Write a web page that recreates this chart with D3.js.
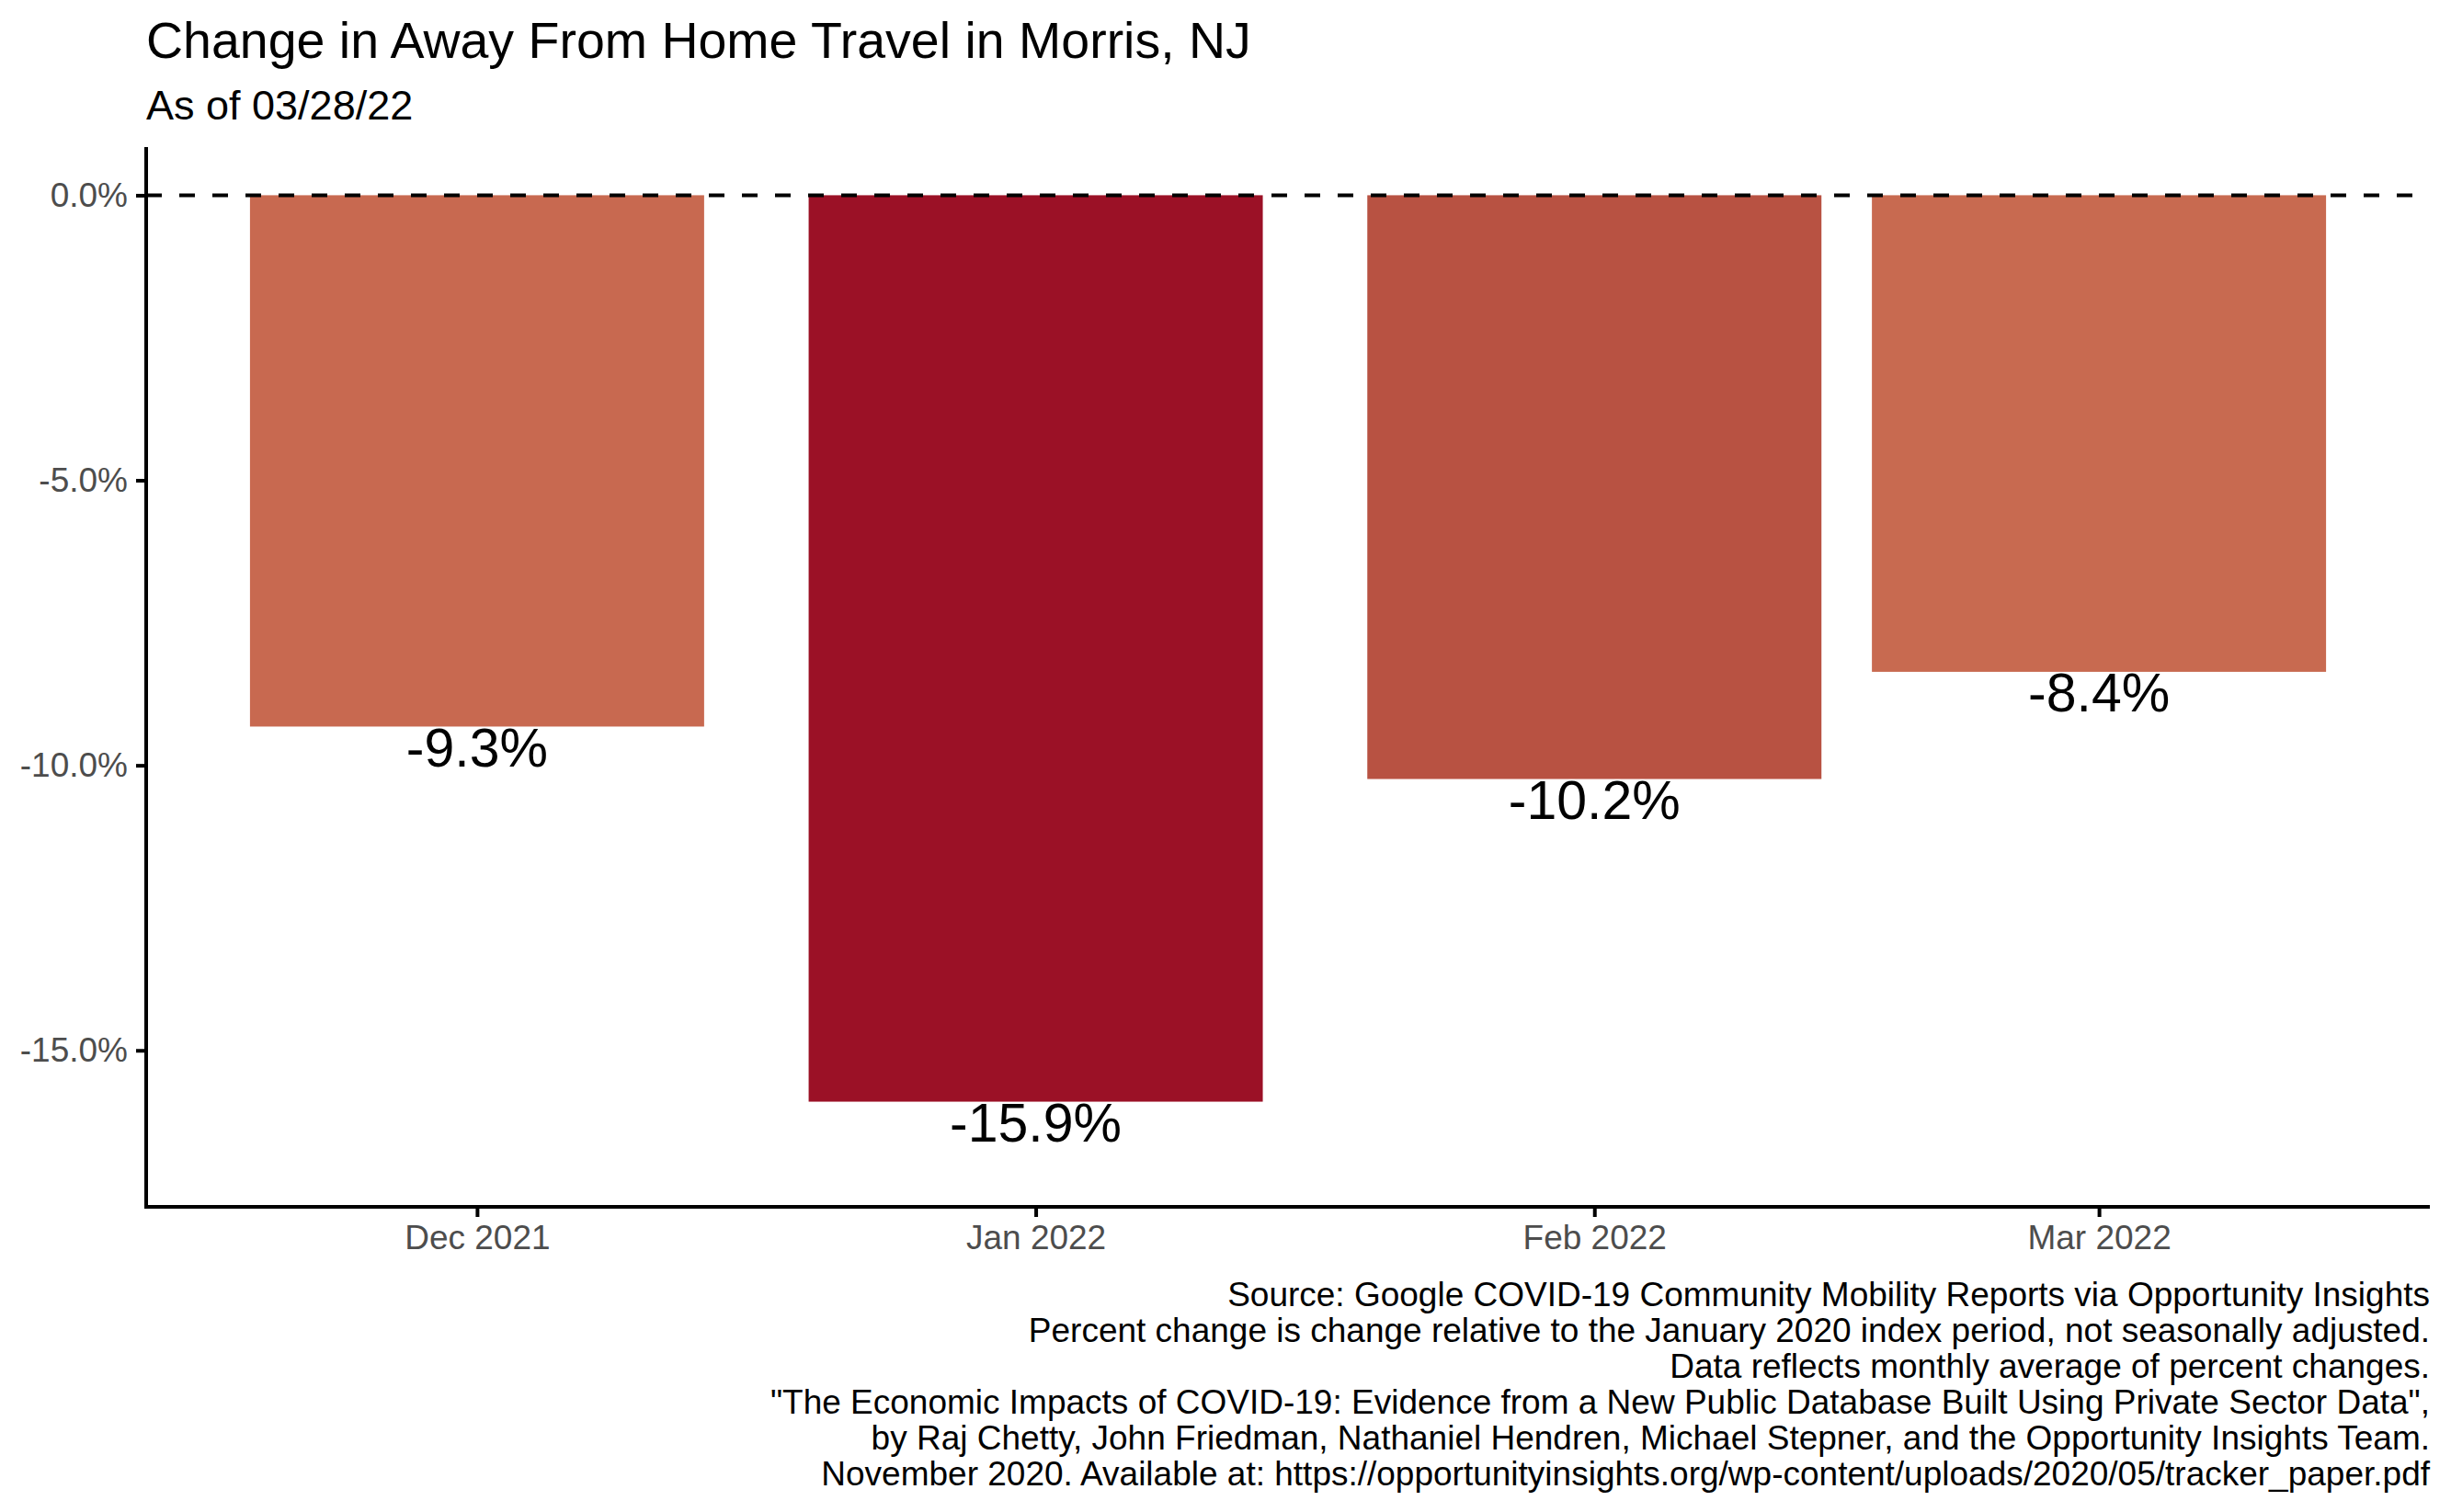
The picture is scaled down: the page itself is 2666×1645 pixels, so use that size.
<!DOCTYPE html>
<html>
<head>
<meta charset="utf-8">
<script src="https://cdn.jsdelivr.net/npm/d3@7"></script>
<style>
  body { margin: 0; background: #fff; }
  svg { display: block; font-family: "Liberation Sans", Arial, sans-serif; }
</style>
</head>
<body>
<script>
// data
const months = ['2021-12-01', '2022-01-01', '2022-02-01', '2022-03-01'];
const changes = [-9.32, -15.90, -10.24, -8.36];
const yTicks = [0, -5, -10, -15];
const captionLines = [
  'Source: Google COVID-19 Community Mobility Reports via Opportunity Insights',
  'Percent change is change relative to the January 2020 index period, not seasonally adjusted.',
  'Data reflects monthly average of percent changes.',
  '"The Economic Impacts of COVID-19: Evidence from a New Public Database Built Using Private Sector Data",',
  'by Raj Chetty, John Friedman, Nathaniel Hendren, Michael Stepner, and the Opportunity Insights Team.',
  'November 2020. Available at: https://opportunityinsights.org/wp-content/uploads/2020/05/tracker_paper.pdf'
];

const W = 2666, H = 1645;
const plotLeft = 159, plotRight = 2643, plotTop = 160, plotBottom = 1313;
const DAY = 864e5;

const data = months.map((m, i) => ({ date: new Date(m + 'T00:00:00Z'), value: changes[i] }));

const svg = d3.select('body').append('svg')
  .attr('width', W).attr('height', H);

// bar width = 0.9 * smallest gap (28 days), 5% expansion each side
const barDays = 0.9 * 28;
const x0 = d3.min(data, d => d.date).getTime() - barDays / 2 * DAY;
const x1 = d3.max(data, d => d.date).getTime() + barDays / 2 * DAY;
const xPad = (x1 - x0) * 0.05;
const x = d3.scaleUtc()
  .domain([new Date(x0 - xPad), new Date(x1 + xPad)])
  .range([plotLeft, plotRight]);

// labels sit 1 unit below bars, so the range includes them
const yMin = d3.min(changes) - 1, yMax = 0;
const yPad = (yMax - yMin) * 0.05;
const y = d3.scaleLinear()
  .domain([yMin - yPad, yMax + yPad])
  .range([plotBottom, plotTop]);

const color = d3.scaleLinear()
  .domain([-15.9, -10.2, -9.3])
  .range(['#9b1126', '#b85242', '#c86a50'])
  .interpolate(d3.interpolateLab)
  .clamp(true);

const barW = x(new Date(x0 + barDays * DAY)) - x(new Date(x0));

svg.append('g').selectAll('rect')
  .data(data)
  .enter()
  .append('rect')
  .attr('x', d => x(d.date) - barW / 2)
  .attr('y', y(0))
  .attr('width', barW)
  .attr('height', d => y(d.value) - y(0))
  .attr('fill', d => color(d.value));

// zero reference line
svg.append('line')
  .attr('x1', plotLeft).attr('x2', plotRight)
  .attr('y1', y(0)).attr('y2', y(0))
  .attr('stroke', '#000')
  .attr('stroke-width', 4)
  .attr('stroke-dasharray', '17,19');

// value labels
svg.append('g').selectAll('text')
  .data(data)
  .enter()
  .append('text')
  .attr('x', d => x(d.date))
  .attr('y', d => y(d.value))
  .attr('dy', '0.73em')
  .attr('text-anchor', 'middle')
  .style('font-size', '59px')
  .style('fill', '#000')
  .text(d => d.value.toFixed(1) + '%');

// y axis
const yAxis = svg.append('g')
  .attr('transform', `translate(${plotLeft},0)`)
  .call(d3.axisLeft(y).tickValues(yTicks).tickSize(11).tickPadding(9)
    .tickFormat(d => d.toFixed(1) + '%'));
yAxis.select('.domain').attr('stroke', '#000').attr('stroke-width', 4)
  .attr('d', `M0,${plotTop}V${plotBottom + 2}`);
yAxis.selectAll('.tick line').attr('stroke', '#000').attr('stroke-width', 4);
yAxis.selectAll('.tick text')
  .style('font-size', '37px')
  .style('font-family', '"Liberation Sans", Arial, sans-serif')
  .attr('fill', '#4d4d4d');

// x axis
const xAxis = svg.append('g')
  .attr('transform', `translate(0,${plotBottom})`)
  .call(d3.axisBottom(x).tickValues(data.map(d => d.date)).tickSize(11).tickPadding(9)
    .tickFormat(d3.utcFormat('%b %Y')));
xAxis.select('.domain').attr('stroke', '#000').attr('stroke-width', 4)
  .attr('d', `M${plotLeft - 2},0H${plotRight}`);
xAxis.selectAll('.tick line').attr('stroke', '#000').attr('stroke-width', 4);
xAxis.selectAll('.tick text')
  .style('font-size', '37px')
  .style('font-family', '"Liberation Sans", Arial, sans-serif')
  .attr('fill', '#4d4d4d');

// titles
svg.append('text')
  .attr('x', plotLeft).attr('y', 63)
  .style('font-size', '55.5px')
  .style('fill', '#000')
  .text('Change in Away From Home Travel in Morris, NJ');

svg.append('text')
  .attr('x', plotLeft).attr('y', 130)
  .style('font-size', '45px')
  .style('fill', '#000')
  .text('As of 03/28/22');

// caption
svg.append('g').selectAll('text')
  .data(captionLines)
  .enter()
  .append('text')
  .attr('x', plotRight)
  .attr('y', (d, i) => 1421 + i * 39)
  .attr('text-anchor', 'end')
  .style('font-size', '37px')
  .style('fill', '#000')
  .text(d => d);
</script>
</body>
</html>
